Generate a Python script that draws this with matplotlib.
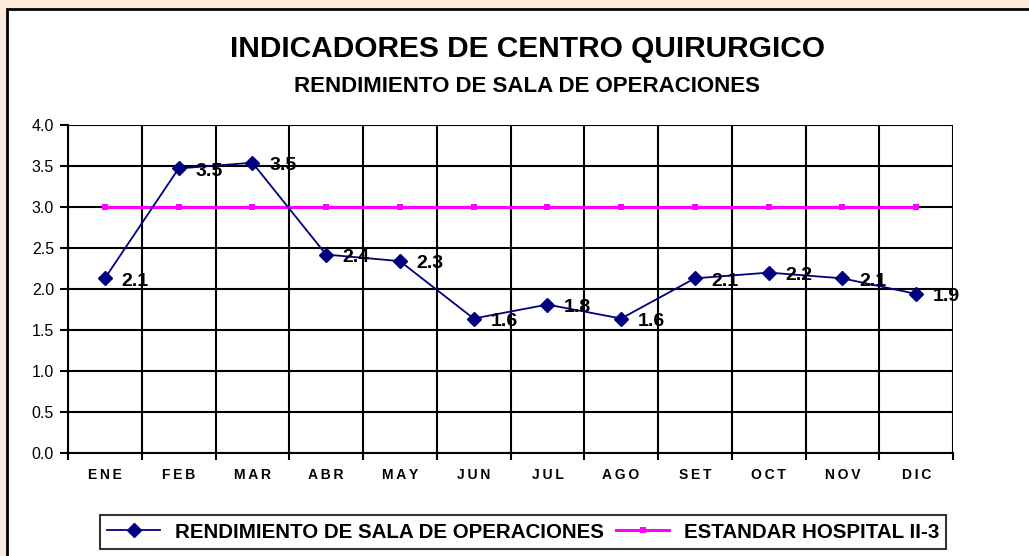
import matplotlib
matplotlib.use("Agg")
import matplotlib.pyplot as plt
from matplotlib.patches import Rectangle
from matplotlib.lines import Line2D
import numpy as np

plt.rcParams['font.family'] = ['Liberation Sans', 'DejaVu Sans']

months = ["ENE", "FEB", "MAR", "ABR", "MAY", "JUN", "JUL", "AGO", "SET", "OCT", "NOV", "DIC"]
rendimiento = [2.13, 3.47, 3.54, 2.42, 2.34, 1.64, 1.81, 1.64, 2.13, 2.2, 2.13, 1.94]
estandar = [3.0] * 12
yticks = [0.0, 0.5, 1.0, 1.5, 2.0, 2.5, 3.0, 3.5, 4.0]

title = "INDICADORES DE CENTRO QUIRURGICO"
subtitle = "RENDIMIENTO DE SALA DE OPERACIONES"
label_rend = "RENDIMIENTO DE SALA DE OPERACIONES"
label_std = "ESTANDAR HOSPITAL II-3"

W, H = 1029, 556
fig = plt.figure(figsize=(W / 100, H / 100), dpi=100)
fig.patch.set_facecolor("#FCEBDD")
fig.patches.append(Rectangle((7 / W, -0.05), 1.1, 1 - 9 / H + 0.05, transform=fig.transFigure,
                             facecolor="white", edgecolor="black", linewidth=2, zorder=-10))

ax = fig.add_axes([68 / W, 1 - 453 / H, (953 - 68) / W, (453 - 125) / H])
ax.set_facecolor("white")
x = np.arange(len(months))

ax.plot(x, estandar, color="#FF00FF", linewidth=2.2, marker="s", markersize=4,
        markeredgewidth=0, zorder=3)
ax.plot(x, rendimiento, color="#000080", linewidth=1.3, marker="D", markersize=7,
        markeredgecolor="#000080", markerfacecolor="#000080", zorder=4)

for xi, v in zip(x, rendimiento):
    ax.annotate(f"{v:.1f}", (xi, v), xytext=(12, -2), textcoords="offset points",
                ha="left", va="center", fontsize=14, fontweight="bold", color="black", zorder=5)

ax.set_xlim(-0.5, len(months) - 0.5)
ax.set_ylim(0, 4)
ax.set_yticks(yticks)
ax.set_yticklabels([f"{t:.1f}" for t in yticks], fontsize=11.5)
ax.set_xticks(np.arange(-0.5, len(months), 1.0))
ax.set_xticklabels([])
ax.set_xticks(x, minor=True)
ax.set_xticklabels(["\u2009".join(m) for m in months], minor=True, fontsize=10, fontweight="bold")
ax.tick_params(axis="x", which="minor", length=0, pad=11)
ax.tick_params(axis="x", which="major", length=5, width=1.5, direction="out")
ax.tick_params(axis="y", length=6, width=1.5, direction="out", pad=4)
ax.grid(True, which="major", color="black", linewidth=1.5, zorder=1)
ax.set_axisbelow(True)
for s in ax.spines.values():
    s.set_linewidth(1.5)
ax.spines["top"].set_visible(False)
ax.spines["right"].set_visible(False)

fig.text(527 / W, 1 - 49 / H, title, ha="center", va="center", fontsize=21.5, fontweight="bold")
fig.text(527 / W, 1 - 86 / H, subtitle, ha="center", va="center", fontsize=16, fontweight="bold")

handles = [Line2D([], [], color="#000080", linewidth=1.3, marker="D", markersize=7),
           Line2D([], [], color="#FF00FF", linewidth=2.2, marker="s", markersize=4, markeredgewidth=0)]
leg = fig.legend(handles, [label_rend, label_std], loc="center", bbox_to_anchor=(523 / W, 1 - 532 / H),
                 ncol=2, frameon=True, fancybox=False, edgecolor="black",
                 prop={"size": 14.8, "weight": "bold"}, handlelength=2.6, columnspacing=0.6,
                 handletextpad=0.7, borderpad=0.35, borderaxespad=0)
leg.get_frame().set_linewidth(1.5)

fig.savefig("out.png", dpi=100, facecolor=fig.get_facecolor())
